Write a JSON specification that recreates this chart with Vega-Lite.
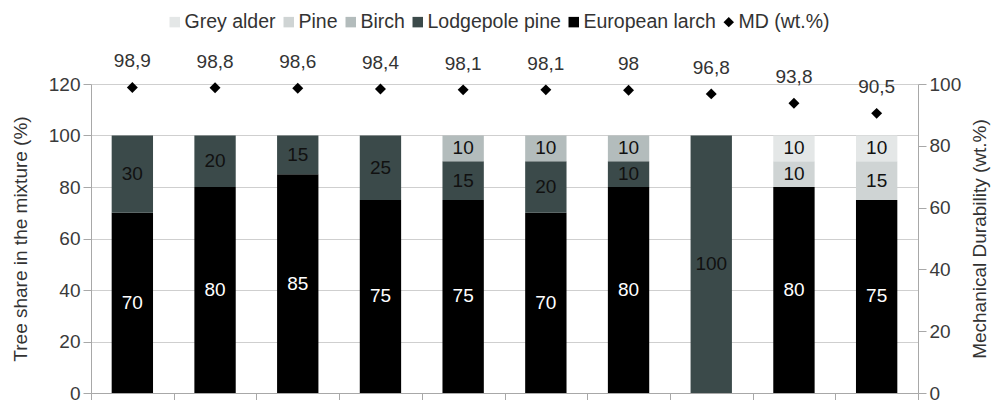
{
  "$schema": "https://vega.github.io/schema/vega-lite/v6.json",
  "autosize": "none",
  "width": 827,
  "height": 309,
  "padding": {"left": 91, "top": 84, "right": 74, "bottom": 7},
  "background": "white",
  "config": {
    "font": "Liberation Sans",
    "view": {"stroke": null},
    "axis": {
      "labelFont": "Liberation Sans",
      "titleFont": "Liberation Sans",
      "labelFontSize": 19,
      "titleFontSize": 19,
      "titleFontWeight": "normal",
      "labelColor": "#3a3a3a",
      "titleColor": "#333333",
      "domainColor": "#a8a8a8",
      "tickColor": "#a8a8a8",
      "gridColor": "#cfcfcf",
      "tickSize": 8,
      "labelPadding": 3
    },
    "legend": {
      "labelFont": "Liberation Sans",
      "labelFontSize": 19.5,
      "labelColor": "#333333"
    }
  },
  "datasets": {
    "bars": [
      {"cat": "1", "series": "European larch", "value": 70, "ord": 1},
      {"cat": "1", "series": "Lodgepole pine", "value": 30, "ord": 2},
      {"cat": "2", "series": "European larch", "value": 80, "ord": 1},
      {"cat": "2", "series": "Lodgepole pine", "value": 20, "ord": 2},
      {"cat": "3", "series": "European larch", "value": 85, "ord": 1},
      {"cat": "3", "series": "Lodgepole pine", "value": 15, "ord": 2},
      {"cat": "4", "series": "European larch", "value": 75, "ord": 1},
      {"cat": "4", "series": "Lodgepole pine", "value": 25, "ord": 2},
      {"cat": "5", "series": "European larch", "value": 75, "ord": 1},
      {"cat": "5", "series": "Lodgepole pine", "value": 15, "ord": 2},
      {"cat": "5", "series": "Birch", "value": 10, "ord": 3},
      {"cat": "6", "series": "European larch", "value": 70, "ord": 1},
      {"cat": "6", "series": "Lodgepole pine", "value": 20, "ord": 2},
      {"cat": "6", "series": "Birch", "value": 10, "ord": 3},
      {"cat": "7", "series": "European larch", "value": 80, "ord": 1},
      {"cat": "7", "series": "Lodgepole pine", "value": 10, "ord": 2},
      {"cat": "7", "series": "Birch", "value": 10, "ord": 3},
      {"cat": "8", "series": "Lodgepole pine", "value": 100, "ord": 2},
      {"cat": "9", "series": "European larch", "value": 80, "ord": 1},
      {"cat": "9", "series": "Pine", "value": 10, "ord": 4},
      {"cat": "9", "series": "Grey alder", "value": 10, "ord": 5},
      {"cat": "10", "series": "European larch", "value": 75, "ord": 1},
      {"cat": "10", "series": "Pine", "value": 15, "ord": 4},
      {"cat": "10", "series": "Grey alder", "value": 10, "ord": 5}
    ],
    "md": [
      {"cat": "1", "series": "MD (wt.%)", "md": 98.9, "label": "98,9"},
      {"cat": "2", "series": "MD (wt.%)", "md": 98.8, "label": "98,8"},
      {"cat": "3", "series": "MD (wt.%)", "md": 98.6, "label": "98,6"},
      {"cat": "4", "series": "MD (wt.%)", "md": 98.4, "label": "98,4"},
      {"cat": "5", "series": "MD (wt.%)", "md": 98.1, "label": "98,1"},
      {"cat": "6", "series": "MD (wt.%)", "md": 98.1, "label": "98,1"},
      {"cat": "7", "series": "MD (wt.%)", "md": 98.0, "label": "98"},
      {"cat": "8", "series": "MD (wt.%)", "md": 96.8, "label": "96,8"},
      {"cat": "9", "series": "MD (wt.%)", "md": 93.8, "label": "93,8"},
      {"cat": "10", "series": "MD (wt.%)", "md": 90.5, "label": "90,5"}
    ]
  },
  "encoding": {
    "x": {
      "field": "cat",
      "type": "ordinal",
      "sort": ["1","2","3","4","5","6","7","8","9","10"],
      "scale": {"paddingInner": 0, "paddingOuter": 0},
      "axis": {"title": null, "labels": false, "tickBand": "extent", "tickSize": 8, "grid": false}
    }
  },
  "layer": [
    {
      "data": {"name": "bars"},
      "transform": [
        {"stack": "value", "groupby": ["cat"], "sort": [{"field": "ord", "order": "ascending"}], "as": ["y0", "y1"]},
        {"calculate": "(datum.y0 + datum.y1) / 2", "as": "ymid"}
      ],
      "layer": [
        {
          "mark": {"type": "bar", "width": {"band": 0.5}},
          "encoding": {
            "y": {
              "field": "y0",
              "type": "quantitative",
              "scale": {"domain": [0, 120], "nice": false},
              "axis": {"title": "Tree share in the mixture (%)", "values": [0, 20, 40, 60, 80, 100, 120], "grid": true, "titlePadding": 18}
            },
            "y2": {"field": "y1"},
            "color": {
              "field": "series",
              "type": "nominal",
              "scale": {
                "domain": ["Grey alder", "Pine", "Birch", "Lodgepole pine", "European larch", "MD (wt.%)"],
                "range": ["#e4e7e7", "#cfd4d4", "#b3bcbc", "#3b4a4a", "#000000", "#000000"]
              },
              "legend": {
                "title": null,
                "orient": "none",
                "direction": "horizontal",
                "legendX": 74,
                "legendY": -72,
                "symbolSize": 110,
                "labelOffset": 0,
                "columnPadding": 3,
                "symbolStrokeWidth": 0
              }
            }
          }
        },
        {
          "mark": {"type": "text", "fontSize": 19, "font": "Liberation Sans", "baseline": "middle"},
          "encoding": {
            "y": {"field": "ymid", "type": "quantitative"},
            "text": {"field": "value", "type": "quantitative"},
            "color": {
              "condition": {"test": "datum.series === 'European larch'", "value": "#ffffff"},
              "value": "#111111"
            }
          }
        }
      ]
    },
    {
      "data": {"name": "md"},
      "encoding": {
        "y": {
          "field": "md",
          "type": "quantitative",
          "scale": {"domain": [0, 100], "nice": false},
          "axis": {"orient": "right", "title": "Mechanical Durability (wt.%)", "values": [0, 20, 40, 60, 80, 100], "grid": false, "titleAngle": -90, "titleBaseline": "top", "titlePadding": 10}
        }
      },
      "layer": [
        {
          "mark": {"type": "point", "filled": true, "opacity": 1},
          "encoding": {
            "color": {"field": "series", "type": "nominal"},
            "shape": {
              "field": "series",
              "type": "nominal",
              "scale": {
                "domain": ["Grey alder", "Pine", "Birch", "Lodgepole pine", "European larch", "MD (wt.%)"],
                "range": ["square", "square", "square", "square", "square", "diamond"]
              }
            },
            "size": {"value": 120}
          }
        },
        {
          "mark": {"type": "text", "fontSize": 19, "font": "Liberation Sans", "baseline": "middle", "dy": -26, "color": "#333333"},
          "encoding": {
            "text": {"field": "label", "type": "nominal"}
          }
        }
      ]
    }
  ],
  "resolve": {"scale": {"y": "independent"}, "axis": {"y": "independent"}}
}
